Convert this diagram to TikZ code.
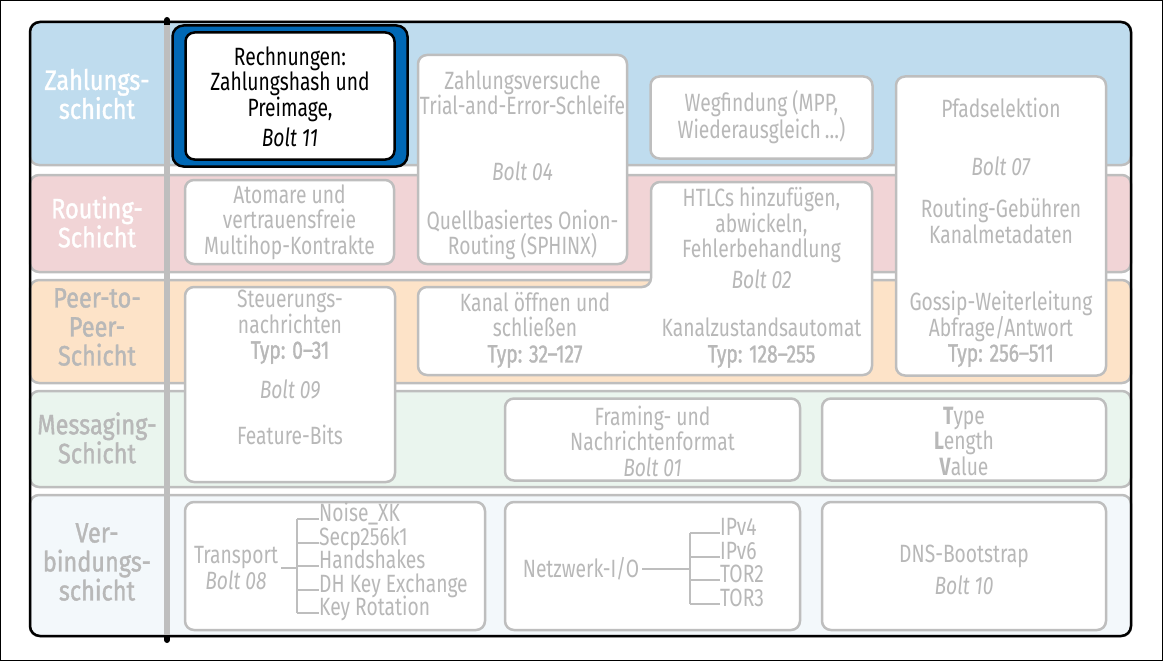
\documentclass[tikz,border=0pt]{standalone}
\usepackage{fontspec}
\setmainfont{Fira Sans}[FakeStretch=0.77]
\newfontfamily\tierfont{Fira Sans}[FakeStretch=0.84, FakeBold=1.3]
\newfontfamily\medfont{Fira Sans}[FakeStretch=0.77, FakeBold=1.2]
\usetikzlibrary{positioning}

\definecolor{paylayer}{RGB}{191,220,238}
\definecolor{routelayer}{RGB}{241,212,214}
\definecolor{peerlayer}{RGB}{253,227,200}
\definecolor{msglayer}{RGB}{234,245,238}
\definecolor{connlayer}{RGB}{243,248,251}
\definecolor{rimgray}{RGB}{190,190,190}
\definecolor{txtgray}{RGB}{184,184,184}
\definecolor{boltblue}{RGB}{0,104,181}

\begin{document}
\begin{tikzpicture}[
    x=1pt, y=-1pt,
    layer/.style={rectangle, draw=rimgray, line width=2.5pt, rounded corners=9pt, inner sep=0pt},
    tier/.style={align=center, inner sep=0pt, font=\tierfont\fontsize{28}{29}\selectfont},
    box/.style={rectangle, rounded corners=9pt, draw=rimgray, fill=white, line width=2.5pt, inner sep=0pt},
    txt/.style={align=center, inner sep=0pt, text=txtgray, font=\fontsize{25}{25.5}\selectfont},
    leaf/.style={txt, anchor=west, text height=1.3ex, text depth=0.2ex},
    branch/.style={draw=rimgray, line width=2pt}
]

    % Frame
    \useasboundingbox (0,0) rectangle (1163,661);
    \draw[line width=1pt] (0.5,0.5) rectangle (1162.5,660.5);

    % Layers
    \node[layer, fill=paylayer, minimum width=1101pt, minimum height=143pt] (paylay) at (580.5,93.5) {};
    \node[layer, fill=routelayer, minimum width=1101pt, minimum height=97pt] (routelay) at (580.5,223.5) {};
    \node[layer, fill=peerlayer, minimum width=1101pt, minimum height=103pt] (peerlay) at (580.5,331.5) {};
    \node[layer, fill=msglayer, minimum width=1101pt, minimum height=96pt] (msglay) at (580.5,439) {};
    \node[layer, fill=connlayer, minimum width=1101pt, minimum height=141pt] (connlay) at (580.5,565.5) {};
    \draw[line width=2.5pt, rounded corners=10pt] (30,22) rectangle (1131,636);

    % Layer names
    \node[tier, text=white] (payname) at (97,94) {Zahlungs-\\schicht};
    \node[tier, text=white] (routename) at (97,222) {Routing-\\Schicht};
    \node[tier, text=txtgray] (peername) at (97,327) {Peer-to-\\Peer-\\Schicht};
    \node[tier, text=txtgray] (msgname) at (97,438) {Messaging-\\Schicht};
    \node[tier, text=txtgray] (connname) at (97,562) {Ver-\\bindungs-\\schicht};

    % Divider
    \draw[line width=6pt, line cap=round] (167,20) -- (167,640);
    \draw[rimgray, line width=6pt] (167,25) -- (167,635);

    % Bolt 11
    \node[rectangle, rounded corners=11pt, draw=black, fill=boltblue, line width=2.5pt, minimum width=235pt, minimum height=141pt] (invoiceouter) at (290,96) {};
    \node[rectangle, rounded corners=9pt, draw=black, fill=white, line width=2.5pt, minimum width=209pt, minimum height=127pt] (invoice) at (290,96) {};
    \node[txt, text=black] (invoicetxt) at (290,97) {Rechnungen:\\Zahlungshash und\\Preimage,\\[5pt]\textit{Bolt 11}};

    % Bolt 04
    \node[box, minimum width=209pt, minimum height=209pt] (bolt04) at (522.5,159.5) {};
    \node[txt] (attempts) at (522.5,93) {Zahlungsversuche\\Trial-and-Error-Schleife};
    \node[txt] (bolt04no) at (522.5,171) {\textit{Bolt 04}};
    \node[txt] (onion) at (522.5,235) {Quellbasiertes Onion-\\Routing (SPHINX)};

    % Wegfindung
    \node[box, minimum width=222pt, minimum height=82pt] (pathfind) at (761.5,117.5) {};
    \node[txt] (pathfindtxt) at (761.5,117) {Wegfindung (MPP,\\Wiederausgleich\,…)};

    % Bolt 07
    \node[box, minimum width=210pt, minimum height=299pt] (bolt07) at (1001,226) {};
    \node[txt] (pathsel) at (1001,108) {Pfadselektion};
    \node[txt] (bolt07no) at (1001,166) {\textit{Bolt 07}};
    \node[txt] (fees) at (1001,221) {Routing-Gebühren\\Kanalmetadaten};
    \node[txt] (gossip) at (1001,329) {Gossip-Weiterleitung\\Abfrage/Antwort\\{\medfont Typ: 256–511}};

    % Atomare Kontrakte
    \node[box, minimum width=209pt, minimum height=84pt] (atomic) at (289.5,222) {};
    \node[txt] (atomictxt) at (289.5,222) {Atomare und\\vertrauensfreie\\Multihop-Kontrakte};

    % Bolt 02
    \draw[box] (651,182) -- (872,182) -- (872,375) -- (418,375) -- (418,287) -- (651,287) -- cycle;
    \node[txt] (htlc) at (761.5,225) {HTLCs hinzufügen,\\abwickeln,\\Fehlerbehandlung};
    \node[txt] (bolt02no) at (761.5,279) {\textit{Bolt 02}};
    \node[txt] (statemachine) at (761.5,343) {Kanalzustandsautomat\\{\medfont Typ: 128–255}};
    \node[txt] (openclose) at (535,330) {Kanal öffnen und\\schließen\\{\medfont Typ: 32–127}};

    % Bolt 09
    \node[box, minimum width=210pt, minimum height=195pt] (bolt09) at (290,384.5) {};
    \node[txt] (control) at (290,327) {Steuerungs-\\nachrichten\\{\medfont Typ: 0–31}};
    \node[txt] (bolt09no) at (290,389) {\textit{Bolt 09}};
    \node[txt] (features) at (290,435) {Feature-Bits};

    % Bolt 01
    \node[box, minimum width=295pt, minimum height=82pt] (bolt01) at (652.5,439.5) {};
    \node[txt] (framing) at (652.5,441) {Framing- und\\Nachrichtenformat\\\textit{Bolt 01}};
    \node[box, minimum width=284pt, minimum height=82pt] (tlv) at (964,439.5) {};
    \node[txt] (tlvtxt) at (964,441) {\textbf{T}ype\\\textbf{L}ength\\\textbf{V}alue};

    % Bolt 08
    \node[box, minimum width=300pt, minimum height=128pt] (bolt08) at (335,566) {};
    \node[txt] (transport) at (236,568) {Transport\\\textit{Bolt 08}};
    \coordinate (tjoin) at (297,568);
    \node[leaf] (noise) at (319,519) {Noise\_XK};
    \node[leaf, below=23.5pt of noise.west, anchor=west] (secp) {Secp256k1};
    \node[leaf, below=23.5pt of secp.west, anchor=west] (hand) {Handshakes};
    \node[leaf, below=23.5pt of hand.west, anchor=west] (dhkey) {DH Key Exchange};
    \node[leaf, below=23.5pt of dhkey.west, anchor=west] (keyrot) {Key Rotation};
    \draw[branch] (transport.east |- tjoin) ++(3pt,0) -- (tjoin);
    \draw[branch] (tjoin |- noise.west) -- (tjoin |- keyrot.west);
    \draw[branch] (tjoin |- noise.west) -- (noise.west);
    \draw[branch] (tjoin |- secp.west) -- (secp.west);
    \draw[branch] (tjoin |- hand.west) -- (hand.west);
    \draw[branch] (tjoin |- dhkey.west) -- (dhkey.west);
    \draw[branch] (tjoin |- keyrot.west) -- (keyrot.west);

    % Netzwerk-I/O
    \node[box, minimum width=295pt, minimum height=128pt] (netio) at (652.5,566) {};
    \node[txt] (netiotxt) at (581,569) {Netzwerk-I/O};
    \coordinate (njoin) at (690,569);
    \node[leaf] (ipv4) at (720,533) {IPv4};
    \node[leaf, below=23.5pt of ipv4.west, anchor=west] (ipv6) {IPv6};
    \node[leaf, below=23.5pt of ipv6.west, anchor=west] (tor2) {TOR2};
    \node[leaf, below=23.5pt of tor2.west, anchor=west] (tor3) {TOR3};
    \draw[branch] (netiotxt.east) ++(3pt,0) -- (njoin);
    \draw[branch] (njoin |- ipv4.west) -- (njoin |- tor3.west);
    \draw[branch] (njoin |- ipv4.west) -- (ipv4.west);
    \draw[branch] (njoin |- ipv6.west) -- (ipv6.west);
    \draw[branch] (njoin |- tor2.west) -- (tor2.west);
    \draw[branch] (njoin |- tor3.west) -- (tor3.west);

    % Bolt 10
    \node[box, minimum width=284pt, minimum height=128pt] (bolt10) at (964,566) {};
    \node[txt] (dns) at (964,570) {DNS-Bootstrap\\[6pt]\textit{Bolt 10}};

\end{tikzpicture}
\end{document}
